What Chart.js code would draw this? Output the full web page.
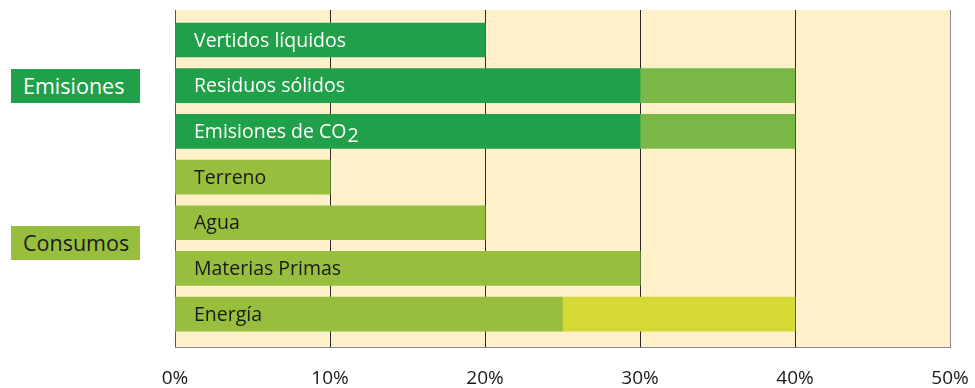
<!DOCTYPE html>
<html>
<head>
<meta charset="utf-8">
<script src="https://cdn.jsdelivr.net/npm/chart.js@4"></script>
<style>
  html, body { margin: 0; padding: 0; background: #ffffff; }
  #wrap { position: relative; width: 975px; height: 388px; }
  canvas { position: absolute; left: 0; top: 0; }
  .grp { position: absolute; left: 11px; width: 129px; height: 34px; line-height: 34px;
         font-family: "Open Sans", sans-serif; font-size: 21.5px; box-sizing: border-box; padding-left: 12px; }
</style>
</head>
<body>
<div id="wrap">
  <canvas id="c" width="975" height="388"></canvas>
  <div class="grp" style="top:69px; background:#21a04a; color:#ffffff;">Emisiones</div>
  <div class="grp" style="top:226px; background:#97bf3d; color:#1a1a1a;">Consumos</div>
</div>
<script>
const categories = ["Vertidos líquidos", "Residuos sólidos", "Emisiones de CO2", "Terreno", "Agua", "Materias Primas", "Energía"];
const baseValues = [20, 30, 30, 10, 20, 30, 25];
const extraValues = [0, 10, 10, 0, 0, 0, 15];
const tickValues = [0, 10, 20, 30, 40, 50];
const tickLabels = ["0%", "10%", "20%", "30%", "40%", "50%"];

const baseColors = ["#21a04a", "#21a04a", "#21a04a", "#97bf3d", "#97bf3d", "#97bf3d", "#97bf3d"];
const extraColors = ["#7ab648", "#7ab648", "#7ab648", "#7ab648", "#7ab648", "#7ab648", "#d4d935"];
const labelColors = ["#ffffff", "#ffffff", "#ffffff", "#1a1a1a", "#1a1a1a", "#1a1a1a", "#1a1a1a"];

const bgPlugin = {
  id: 'bg',
  beforeDraw(chart) {
    const a = chart.chartArea, ctx = chart.ctx;
    ctx.save();
    ctx.fillStyle = '#fef0c8';
    ctx.fillRect(a.left, a.top, a.right - a.left, a.bottom - a.top);
    ctx.restore();
  }
};

const labelPlugin = {
  id: 'barLabels',
  afterDatasetsDraw(chart) {
    const ctx = chart.ctx, xs = chart.scales.x, ys = chart.scales.y;
    ctx.save();
    ctx.font = '19.5px "Open Sans", sans-serif';
    ctx.textBaseline = 'middle';
    ctx.textAlign = 'left';
    categories.forEach((lab, i) => {
      const x = xs.getPixelForValue(0) + 19;
      const y = ys.getPixelForValue(i) + 1;
      ctx.fillStyle = labelColors[i];
      if (lab.endsWith('CO2')) {
        const main = lab.slice(0, -1);
        ctx.fillText(main, x, y);
        const w = ctx.measureText(main).width;
        ctx.fillText('2', x + w + 1, y + 4);
      } else {
        ctx.fillText(lab, x, y);
      }
    });
    ctx.restore();
  }
};

new Chart(document.getElementById('c'), {
  type: 'bar',
  data: {
    datasets: [
      { label: 'base', data: baseValues.map((v, i) => ({ x: v, y: i })), backgroundColor: baseColors, borderWidth: 0 },
      { label: 'extra', data: extraValues.map((v, i) => ({ x: v, y: i })), backgroundColor: extraColors, borderWidth: 0 }
    ]
  },
  options: {
    indexAxis: 'y',
    responsive: false,
    animation: false,
    devicePixelRatio: 1,
    barThickness: 34,
    layout: { padding: { left: 175, right: 25, top: 10, bottom: 0 } },
    plugins: { legend: { display: false }, tooltip: { enabled: false } },
    scales: {
      x: {
        type: 'linear',
        min: 0, max: 50,
        stacked: true,
        afterBuildTicks(scale) { scale.ticks = tickValues.map(v => ({ value: v })); },
        afterFit(scale) { scale.height = 41; scale.paddingLeft = 0; scale.paddingRight = 0; },
        ticks: {
          padding: 20,
          color: '#1a1a1a',
          font: { family: '"Open Sans", sans-serif', size: 19 },
          callback: (v) => tickLabels[tickValues.indexOf(v)]
        },
        grid: {
          drawTicks: false,
          lineWidth: 1,
          color: (c) => (c.tick && c.tick.value === 0) ? '#555555' : (c.tick && c.tick.value === 50) ? '#8a8a8a' : '#2a2a2a'
        },
        border: { display: true, color: '#8a8a8a', width: 1 }
      },
      y: {
        type: 'linear',
        reverse: true,
        offset: false,
        min: -0.657, max: 6.72,
        stacked: true,
        display: false
      }
    }
  },
  plugins: [bgPlugin, labelPlugin]
});
</script>
</body>
</html>
